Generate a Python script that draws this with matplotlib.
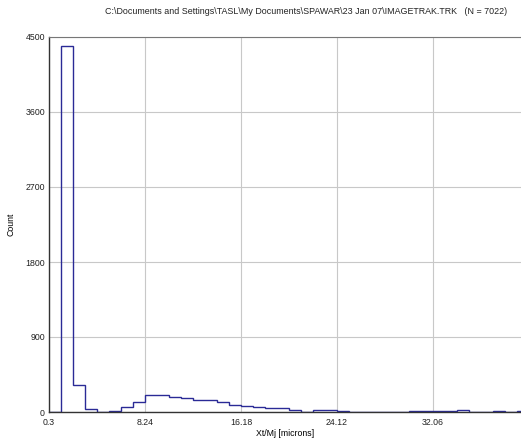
import numpy as np
import matplotlib
matplotlib.use('Agg')
import matplotlib.pyplot as plt

plt.rcParams['font.family'] = ['Liberation Sans', 'DejaVu Sans']

title = 'C:\\Documents and Settings\\TASL\\My Documents\\SPAWAR\\23 Jan 07\\IMAGETRAK.TRK   (N = 7022)'

# histogram: 40 bins from 0.3 to 40.0 microns
x_lo = 0.3
x_hi = 40.0
counts = [0, 4390, 328, 32, 0, 8, 64, 120, 205, 200,
          184, 164, 150, 140, 115, 90, 70, 66, 52, 50,
          26, 4, 20, 20, 14, 5, 5, 5, 4, 0,
          10, 10, 10, 10, 28, 0, 0, 12, 0, 12]
xticks = [0.3, 8.24, 16.18, 24.12, 32.06, 40.0]
xtick_labels = ['0.3', '8.24', '16.18', '24.12', '32.06', '']  # 40 falls off the right edge
yticks = [0, 900, 1800, 2700, 3600, 4500]

edges = np.linspace(x_lo, x_hi, len(counts) + 1)

W, H = 521, 442
fig = plt.figure(figsize=(W/100, H/100), dpi=100)
ax = fig.add_axes([49/W, 30/H, 480/W, 375/H])

ax.stairs(counts, edges, color='#2a2a96', linewidth=1.0, baseline=0)

ax.set_xlim(x_lo, x_hi)
ax.set_ylim(0, 4500)
ax.set_xticks(xticks)
ax.set_xticklabels(xtick_labels)
ax.set_yticks(yticks)
ax.tick_params(length=0, labelsize=6.3, colors='#222222')
ax.tick_params(axis='x', pad=4)
ax.tick_params(axis='y', pad=3)
ax.grid(True, color='#c8c8c8', linewidth=0.8)
ax.set_axisbelow(True)

for s in ['left', 'bottom']:
    ax.spines[s].set_color('#333333')
    ax.spines[s].set_linewidth(1.0)
ax.spines['top'].set_color('#777777')
ax.spines['right'].set_visible(False)

ax.set_xlabel('Xt/Mj [microns]', fontsize=6.3)
ax.xaxis.set_label_coords((285 - 49) / 480, -17 / 375)
ax.set_ylabel('Count', fontsize=6.3)
ax.yaxis.set_label_coords(-33 / 480, 0.5)

fig.text(306/W, 1 - 11/H, title, fontsize=6.4, ha='center', va='center', color='#222222')

fig.savefig('out.png', dpi=100)
